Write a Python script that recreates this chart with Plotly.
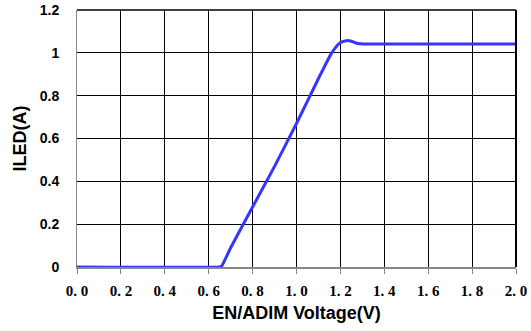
import plotly.graph_objects as go

voltage = [0.0, 0.65, 0.66, 0.70, 0.80, 0.90, 1.00, 1.10, 1.16, 1.19, 1.21, 1.23, 1.25, 1.27, 1.29, 1.32, 1.60, 2.00]
iled = [0.0, 0.0, 0.005, 0.09, 0.28, 0.47, 0.67, 0.88, 1.0, 1.04, 1.052, 1.057, 1.054, 1.046, 1.042, 1.041, 1.041, 1.041]

x_tick_vals = [0.0, 0.2, 0.4, 0.6, 0.8, 1.0, 1.2, 1.4, 1.6, 1.8, 2.0]
x_tick_text = ["0. 0", "0. 2", "0. 4", "0. 6", "0. 8", "1. 0", "1. 2", "1. 4", "1. 6", "1. 8", "2. 0"]
y_tick_vals = [0, 0.2, 0.4, 0.6, 0.8, 1.0, 1.2]
y_tick_text = ["0", "0.2", "0.4", "0.6", "0.8", "1", "1.2"]

fig = go.Figure()
fig.add_trace(go.Scatter(x=voltage, y=iled, mode="lines",
                         line=dict(color="#3535ff", width=3, shape="spline", smoothing=0.3),
                         showlegend=False))

fig.update_layout(
    width=531, height=331,
    margin=dict(l=77, r=15, t=10, b=64),
    paper_bgcolor="white", plot_bgcolor="white",
    xaxis=dict(range=[0, 2.0], tickvals=x_tick_vals, ticktext=x_tick_text,
               automargin=False,
               showgrid=True, gridcolor="black", gridwidth=1,
               showline=True, linecolor="#888888", linewidth=2,
               ticks="outside", ticklen=5, tickcolor="#888888", tickwidth=1,
               ticklabelstandoff=4,
               tickfont=dict(family="Liberation Serif", size=15, color="black", weight="bold"),
               title=dict(text="<b>EN/ADIM Voltage(V)</b>", standoff=8,
                          font=dict(family="Liberation Sans", size=18, color="black")),
               zeroline=False),
    yaxis=dict(range=[0, 1.2], tickvals=y_tick_vals, ticktext=y_tick_text,
               automargin=False,
               showgrid=True, gridcolor="black", gridwidth=1,
               showline=True, linecolor="#888888", linewidth=1,
               ticks="", ticklabelstandoff=14,
               tickfont=dict(family="Liberation Sans", size=14, color="black", weight="bold"),
               title=dict(text="<b>ILED(A)</b>", standoff=8,
                          font=dict(family="Liberation Sans", size=18, color="black")),
               zeroline=False),
)
fig.add_shape(type="line", xref="paper", yref="paper", x0=0, x1=1, y0=1, y1=1,
              line=dict(color="black", width=1.5))
fig.add_shape(type="line", xref="paper", yref="paper", x0=1, x1=1, y0=0, y1=1,
              line=dict(color="black", width=2))

fig.write_html("out.html")
